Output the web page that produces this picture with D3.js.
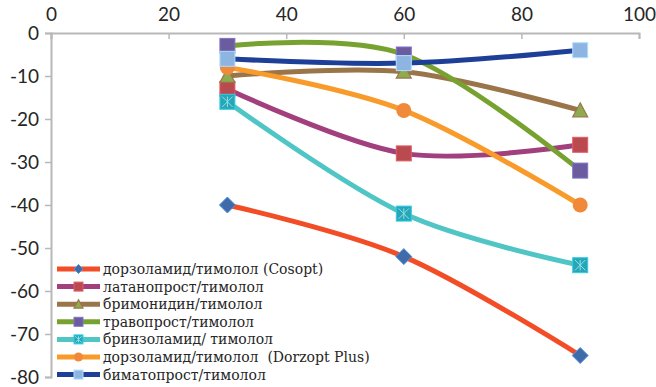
<!DOCTYPE html>
<html>
<head>
<meta charset="utf-8">
<script src="https://cdnjs.cloudflare.com/ajax/libs/d3/7.8.5/d3.min.js"></script>
<style>
  html, body { margin: 0; padding: 0; background: #fff; }
  svg { display: block; }
</style>
</head>
<body>
<svg id="chart" width="656" height="387"></svg>
<script>
// Time points (x) and the change for each fixed combination
const xValues = [30, 60, 90];
const seriesNames = [
  "дорзоламид/тимолол (Cosopt)",
  "латанопрост/тимолол",
  "бримонидин/тимолол",
  "травопрост/тимолол",
  "бринзоламид/ тимолол",
  "дорзоламид/тимолол  (Dorzopt Plus)",
  "биматопрост/тимолол"
];
const cosopt       = [-40, -52, -75];
const latanoprost  = [-13, -28, -26];
const brimonidine  = [-10, -9, -18];
const travoprost   = [-3, -5, -32];
const brinzolamide = [-16, -42, -54];
const dorzopt      = [-8, -18, -40];
const bimatoprost  = [-6, -7, -4];
const xTicks = [0, 20, 40, 60, 80, 100];
const yTicks = [0, -10, -20, -30, -40, -50, -60, -70, -80];

const lineColors   = ["#f24d26", "#a23f7d", "#9b754a", "#78a22f", "#4fc5c6", "#f99b2a", "#1d3f97"];
const markerColors = ["#3f6ca8", "#b94a50", "#8eab50", "#6a5c9f", "#27a6b8", "#f08a3a", "#8eb4e1"];
const markerShapes = ["diamond", "square", "triangle", "square", "star", "circle", "square"];

const allValues = [cosopt, latanoprost, brimonidine, travoprost, brinzolamide, dorzopt, bimatoprost];
const series = seriesNames.map((name, i) => ({
  name, values: allValues[i], line: lineColors[i], fill: markerColors[i], shape: markerShapes[i]
}));

const svg = d3.select("#chart");
const x = d3.scaleLinear().domain([0, 100]).range([51, 639]);
const y = d3.scaleLinear().domain([0, -80]).range([33, 377]);

const axisColor = "#b8b8b8";
const tickFont = "Lato, 'Open Sans', sans-serif";

// Top x axis
const xAxis = svg.append("g").attr("transform", `translate(0,${y(0)})`)
  .call(d3.axisTop(x).tickValues(xTicks).tickSize(-6).tickPadding(12).tickFormat(d3.format("d")));
// Left y axis
const yAxis = svg.append("g").attr("transform", `translate(${x(0)},0)`)
  .call(d3.axisLeft(y).tickValues(yTicks).tickSize(6).tickPadding(6).tickFormat(d => d === 0 ? "0" : "-" + Math.abs(d)));

[xAxis, yAxis].forEach(g => {
  g.select(".domain").attr("stroke", axisColor).attr("stroke-width", 2);
  g.selectAll(".tick line").attr("stroke", axisColor).attr("stroke-width", 1.5);
  g.selectAll(".tick text").attr("fill", "#262626").style("font-family", tickFont).style("font-size", "19px");
});

// Smoothed series lines
const line = d3.line()
  .x((d, i) => x(xValues[i]))
  .y(d => y(d))
  .curve(d3.curveCatmullRom.alpha(0));

svg.append("g").selectAll("path").data(series).join("path")
  .attr("d", d => line(d.values))
  .attr("fill", "none")
  .attr("stroke", d => d.line)
  .attr("stroke-width", 5)
  .attr("stroke-linecap", "round");

function drawMarker(g, shape, fill, size) {
  const h = size / 2;
  if (shape === "square") {
    g.append("rect").attr("x", -h).attr("y", -h).attr("width", size).attr("height", size)
      .attr("fill", fill).attr("stroke", d3.color(fill).brighter(0.6)).attr("stroke-width", 1);
  } else if (shape === "diamond") {
    g.append("path").attr("d", `M0,${-h}L${h},0L0,${h}L${-h},0Z`)
      .attr("fill", fill).attr("stroke", d3.color(fill).brighter(0.8)).attr("stroke-width", 1);
  } else if (shape === "triangle") {
    g.append("path").attr("d", `M0,${-h}L${h},${h * 0.85}L${-h},${h * 0.85}Z`)
      .attr("fill", fill).attr("stroke", "#9b754a").attr("stroke-width", 1.2);
  } else if (shape === "circle") {
    g.append("circle").attr("r", h).attr("fill", fill);
  } else if (shape === "star") {
    g.append("rect").attr("x", -h).attr("y", -h).attr("width", size).attr("height", size)
      .attr("fill", fill).attr("stroke", d3.color(fill).brighter(0.6)).attr("stroke-width", 1);
    const k = h * 0.7;
    g.append("path").attr("d", `M${-k},${-k}L${k},${k}M${-k},${k}L${k},${-k}M0,${-k}L0,${k}`)
      .attr("stroke", "#8fe0e6").attr("stroke-width", 1).attr("fill", "none");
  }
}

// Point markers
series.forEach(s => {
  s.values.forEach((v, i) => {
    const g = svg.append("g").attr("transform", `translate(${x(xValues[i])},${y(v)})`);
    drawMarker(g, s.shape, s.fill, s.shape === "diamond" ? 16 : 15);
  });
});

// Legend
const legend = svg.append("g").attr("transform", "translate(57,269)");
series.forEach((s, i) => {
  const row = legend.append("g").attr("transform", `translate(0,${i * 17.6})`);
  row.append("line").attr("x1", 0).attr("x2", 43).attr("y1", 0).attr("y2", 0)
    .attr("stroke", s.line).attr("stroke-width", 5);
  const m = row.append("g").attr("transform", "translate(21.5,0)");
  drawMarker(m, s.shape, s.fill, 9);
  row.append("text").attr("x", 46).attr("y", 0).attr("dy", "0.35em")
    .attr("fill", "#262626")
    .style("font-family", "'DejaVu Serif', serif")
    .style("font-size", "14px")
    .style("white-space", "pre")
    .text(s.name);
});
</script>
</body>
</html>
